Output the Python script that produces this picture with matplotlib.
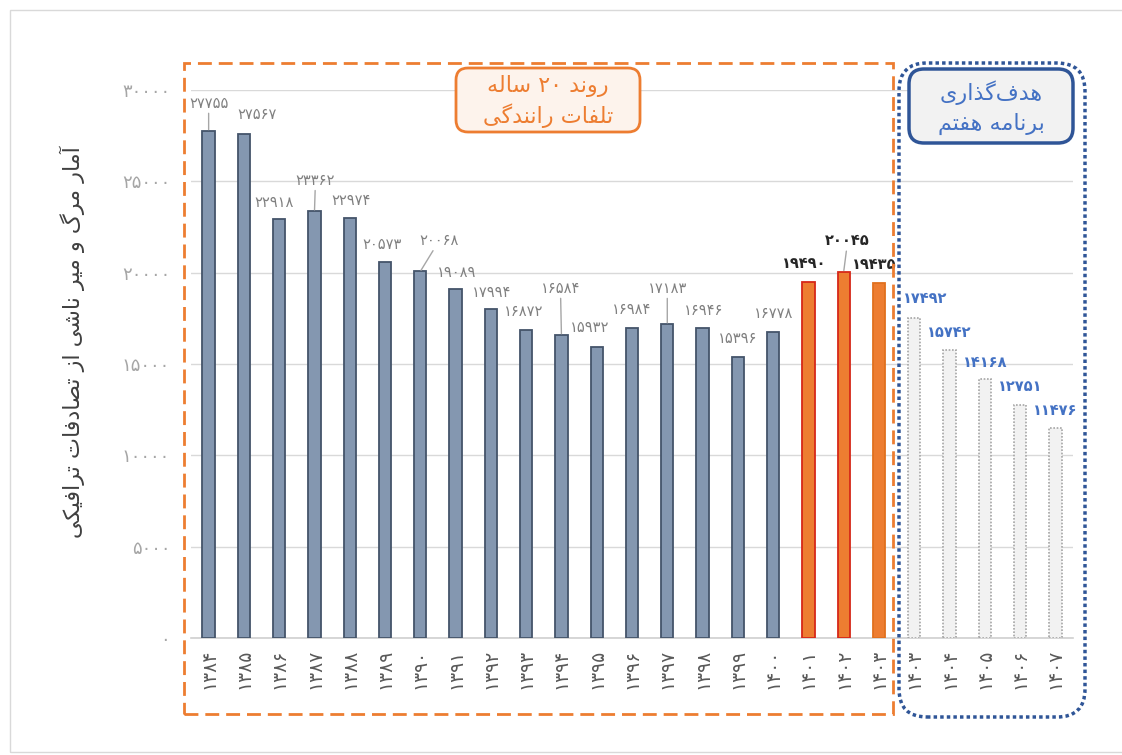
import matplotlib
matplotlib.use('Agg')
import matplotlib.pyplot as plt
import numpy as np
from matplotlib.patches import FancyBboxPatch, Rectangle
from matplotlib.transforms import IdentityTransform

# ---- data ----
years = [1384, 1385, 1386, 1387, 1388, 1389, 1390, 1391, 1392, 1393,
         1394, 1395, 1396, 1397, 1398, 1399, 1400, 1401, 1402, 1403,
         1403, 1404, 1405, 1406, 1407]
deaths = [27755, 27567, 22918, 23362, 22974, 20573, 20068, 19089, 17994, 16872,
          16584, 15932, 16984, 17183, 16946, 15396, 16778, 19490, 20045, 19435]
targets = [17492, 15742, 14168, 12751, 11476]
yticks = [0, 5000, 10000, 15000, 20000, 25000, 30000]

trendTitle = ['روند ۲۰ ساله', 'تلفات رانندگی']
targetTitle = ['هدف\u200cگذاری', 'برنامه هفتم']
yLabel = 'آمار مرگ و میر ناشی از تصادفات ترافیکی'

# ---- label offsets (pixels) and which labels get a leader line ----
lblDx = [0, 13, -5, 1, 1, -3, 19, 1, 1, -2, -1, -7, 0, 0, 1, 0, 1, -4, 4, -5,
         11, 0, 0, 0, 0]
lblDy = [28, 20, 17, 31, 18, 18, 31, 17, 17, 18, 47, 19, 18, 36, 18, 18, 18, 18, 31, 18,
         20, 18, 17, 19, 18]
leader = [0, 3, 6, 10, 13, 18]

W, H = 1122, 755

# ---- minimal persian shaping (matplotlib has no bidi / joining) ----
FORMS = {
    '\u0627': ('\uFE8D', '\uFE8E', None, None),
    '\u0622': ('\uFE81', '\uFE82', None, None),
    '\u0628': ('\uFE8F', '\uFE90', '\uFE91', '\uFE92'),
    '\u062A': ('\uFE95', '\uFE96', '\uFE97', '\uFE98'),
    '\u062F': ('\uFEA9', '\uFEAA', None, None),
    '\u0630': ('\uFEAB', '\uFEAC', None, None),
    '\u0631': ('\uFEAD', '\uFEAE', None, None),
    '\u0632': ('\uFEAF', '\uFEB0', None, None),
    '\u0633': ('\uFEB1', '\uFEB2', '\uFEB3', '\uFEB4'),
    '\u0634': ('\uFEB5', '\uFEB6', '\uFEB7', '\uFEB8'),
    '\u0635': ('\uFEB9', '\uFEBA', '\uFEBB', '\uFEBC'),
    '\u0641': ('\uFED1', '\uFED2', '\uFED3', '\uFED4'),
    '\u0644': ('\uFEDD', '\uFEDE', '\uFEDF', '\uFEE0'),
    '\u0645': ('\uFEE1', '\uFEE2', '\uFEE3', '\uFEE4'),
    '\u0646': ('\uFEE5', '\uFEE6', '\uFEE7', '\uFEE8'),
    '\u0647': ('\uFEE9', '\uFEEA', '\uFEEB', '\uFEEC'),
    '\u0648': ('\uFEED', '\uFEEE', None, None),
    '\u06CC': ('\uFBFC', '\uFBFD', '\uFBFE', '\uFBFF'),
    '\u06A9': ('\uFB8E', '\uFB8F', '\uFB90', '\uFB91'),
    '\u06AF': ('\uFB92', '\uFB93', '\uFB94', '\uFB95'),
}
DIGITS = '۰۱۲۳۴۵۶۷۸۹0123456789'


def Shape(s):
    out = []
    for i, c in enumerate(s):
        if c not in FORMS:
            out.append(c)
            continue
        prev = s[i - 1] if i > 0 else None
        nxt = s[i + 1] if i + 1 < len(s) else None
        jp = prev in FORMS and FORMS[prev][2] is not None
        jn = FORMS[c][2] is not None and nxt in FORMS
        iso, fin, ini, med = FORMS[c]
        if jp and jn:
            out.append(med)
        elif jp:
            out.append(fin)
        elif jn:
            out.append(ini)
        else:
            out.append(iso)
    out = [c for c in out if c != '\u200c']
    # visual order: reverse runs, keep digit runs left-to-right
    runs = []
    for c in out:
        isDig = c in DIGITS
        if runs and runs[-1][0] == isDig:
            runs[-1][1].append(c)
        else:
            runs.append((isDig, [c]))
    vis = ''
    for isDig, chars in reversed(runs):
        vis += ''.join(chars if isDig else reversed(chars))
    return vis


def Fa(n):
    return str(n).translate(str.maketrans('0123456789', '۰۱۲۳۴۵۶۷۸۹'))


def Px(x, yTop):
    return x, H - yTop


plt.rcParams['font.family'] = ['DejaVu Sans']

fig = plt.figure(figsize=(W / 100, H / 100), dpi=100)
ax = fig.add_axes([191 / W, 117 / H, 882 / W, 548 / H])

nAct = len(deaths)
xAct = np.arange(nAct)
xTgt = np.arange(nAct, nAct + len(targets))

faces = ['#8497B0'] * 17 + ['#ED7D31'] * 3
edges = ['#44546A'] * 17 + ['#D62718', '#D62718', '#E0701E']
ax.bar(xAct, deaths, width=0.35, color=faces, edgecolor=edges, linewidth=1.3, zorder=3)
ax.bar(xTgt, targets, width=0.35, color='#F2F2F2', edgecolor='#A6A6A6',
       linewidth=1.2, linestyle=(0, (1, 1)), zorder=3)

allVals = deaths + targets
for i, v in enumerate(allVals):
    if i < 17:
        col, wt = '#808080', 'normal'
    elif i < 20:
        col, wt = '#262626', 'bold'
    else:
        col, wt = '#4472C4', 'bold'
    arrow = None
    if i in leader:
        arrow = dict(arrowstyle='-', color='#A6A6A6', lw=1, shrinkA=0, shrinkB=1)
    ax.annotate(Fa(v), xy=(i, v), xytext=(lblDx[i], lblDy[i]), textcoords='offset pixels',
                ha='center', va='center', fontsize=10.5, color=col, fontweight=wt,
                arrowprops=arrow, zorder=4)

ax.set_xlim(-0.5, 24.5)
ax.set_ylim(0, 30000)
ax.set_yticks(yticks)
ax.set_yticklabels([Fa(t) for t in yticks])
ax.set_xticks(np.arange(len(years)))
ax.set_xticklabels([Fa(y) for y in years], rotation=90)
ax.tick_params(axis='both', length=0)
ax.tick_params(axis='y', pad=15, labelcolor='#A6A6A6', labelsize=13)
ax.tick_params(axis='x', pad=8, labelcolor='#595959', labelsize=13.5)
ax.yaxis.grid(True, color='#D9D9D9', linewidth=1)
ax.set_axisbelow(True)
for s in ['top', 'right', 'left']:
    ax.spines[s].set_visible(False)
ax.spines['bottom'].set_color('#D0D0D0')
ax.spines['bottom'].set_linewidth(1.2)

fig.text(72 / W, 1 - 342 / H, Shape(yLabel), rotation=90, ha='center', va='center',
         fontsize=16, color='#404040')

# outer frame
fig.add_artist(Rectangle(Px(10, 752), 1130, 742, transform=IdentityTransform(),
                         fill=False, edgecolor='#D9D9D9', linewidth=1))

# dashed orange region
fig.add_artist(Rectangle(Px(184, 714), 893 - 184, 714 - 63, transform=IdentityTransform(),
                         fill=False, edgecolor='#ED7D31', linewidth=2,
                         linestyle=(0, (5, 2.5))))

# dotted blue region
fig.add_artist(FancyBboxPatch(Px(899, 717), 1085 - 899, 717 - 63,
                              boxstyle='round,pad=0,rounding_size=28',
                              transform=IdentityTransform(), fill=False,
                              edgecolor='#2F5597', linewidth=2.5, linestyle=(0, (1, 0.9))))

# orange title box
fig.add_artist(FancyBboxPatch(Px(456, 132), 640 - 456, 132 - 68,
                              boxstyle='round,pad=0,rounding_size=12',
                              transform=IdentityTransform(), facecolor='#FDF3EC',
                              edgecolor='#ED7D31', linewidth=2))
fig.text(548 / W, 1 - 86 / H, Shape(trendTitle[0]), ha='center', va='center',
         fontsize=16, color='#ED7D31')
fig.text(548 / W, 1 - 116 / H, Shape(trendTitle[1]), ha='center', va='center',
         fontsize=16, color='#ED7D31')

# blue title box
fig.add_artist(FancyBboxPatch(Px(909, 143), 1073 - 909, 143 - 69,
                              boxstyle='round,pad=0,rounding_size=15',
                              transform=IdentityTransform(), facecolor='#F2F2F2',
                              edgecolor='#2F5597', linewidth=2.5))
fig.text(991 / W, 1 - 93 / H, Shape(targetTitle[0]), ha='center', va='center',
         fontsize=16, color='#4472C4')
fig.text(991 / W, 1 - 124 / H, Shape(targetTitle[1]), ha='center', va='center',
         fontsize=16, color='#4472C4')

fig.savefig('out.png', dpi=100, facecolor='white')
